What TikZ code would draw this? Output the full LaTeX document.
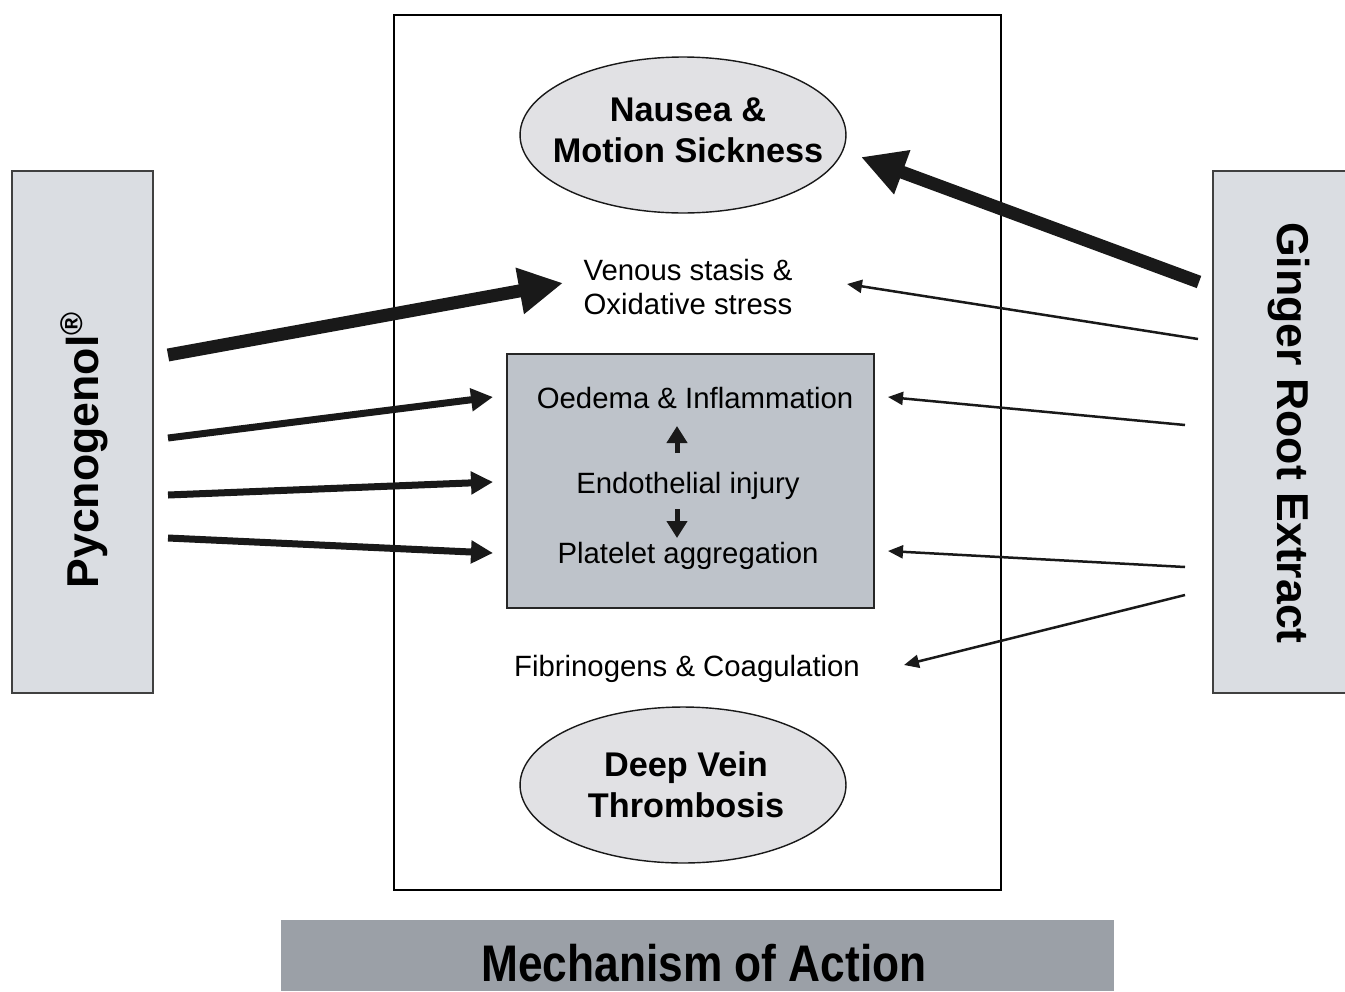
\documentclass[tikz,border=0pt]{standalone}
\usepackage{fontspec}
\setmainfont{Liberation Sans}
\usetikzlibrary{shapes.geometric,arrows.meta}
\definecolor{sideg}{HTML}{DADDE2}
\definecolor{innerg}{HTML}{BEC3CA}
\definecolor{ellg}{HTML}{E1E1E4}
\definecolor{bang}{HTML}{9BA0A7}
\tikzset{
  sidebox/.style={draw=black!75, fill=sideg, line width=0.8pt, inner sep=0},
  ell/.style={ellipse, draw=black!90, fill=ellg, line width=0.8pt, minimum width=6.52cm, minimum height=3.12cm, inner sep=0},
  lbl/.style={inner sep=0, font=\fontsize{16.7pt}{19.8pt}\selectfont, align=center},
  boldlbl/.style={inner sep=0, font=\bfseries\fontsize{19.5pt}{23.2pt}\selectfont, align=center},
  sidelbl/.style={inner sep=0, font=\bfseries\fontsize{25.4pt}{30pt}\selectfont},
  bigarrow/.style={line width=0.26cm, black!90, -{Triangle[length=0.88cm,width=0.88cm]}},
  medarrow/.style={line width=0.14cm, black!90, -{Triangle[length=0.44cm,width=0.44cm]}},
  thinarrow/.style={line width=0.05cm, black!90, -{Triangle[length=0.3cm,width=0.26cm]}},
  tinyarrow/.style={line width=0.1cm, black!90, -{Triangle[length=0.34cm,width=0.4cm]}},
}
\begin{document}
\begin{tikzpicture}[x=0.02cm,y=-0.02cm]
\useasboundingbox (0,0) rectangle (1345,991);
% frames
\node[draw=black, line width=0.7pt, minimum width=12.14cm, minimum height=17.5cm, inner sep=0] (frame) at (697.5,452.5) {};
\node[sidebox, minimum width=2.82cm, minimum height=10.44cm] (leftbox) at (82.5,432) {};
\node[sidebox, minimum width=2.74cm, minimum height=10.44cm] (rightbox) at (1281.5,432) {};
\node[sidelbl, rotate=90] (pyc) at (84,450) {Pycnogenol\textsuperscript{®}};
\node[sidelbl, rotate=-90] (ginger) at (1289,433) {Ginger Root Extract};
% ellipses
\node[ell] (nausea) at (683,135) {};
\node[boldlbl] (nauseat) at (688,130) {Nausea \&\\Motion Sickness};
\node[ell] (dvt) at (683,785) {};
\node[boldlbl] (dvtt) at (686,785) {Deep Vein\\Thrombosis};
% inner box
\node[draw=black!85, fill=innerg, line width=0.8pt, minimum width=7.34cm, minimum height=5.08cm, inner sep=0] (inner) at (690.5,481) {};
\node[lbl, anchor=base] (oedema) at (695,408) {Oedema \& Inflammation};
\node[lbl, anchor=base] (endo) at (688,493) {Endothelial injury};
\node[lbl, anchor=base] (platelet) at (688,563) {Platelet aggregation};
\node[lbl] (venous) at (688,287) {Venous stasis \&\\Oxidative stress};
\node[lbl, anchor=base] (fibrin) at (687,676) {Fibrinogens \& Coagulation};
% banner
\node[fill=bang, minimum width=16.66cm, minimum height=1.42cm, inner sep=0] (banner) at (697.5,955.5) {};
\node[inner sep=0, anchor=base, font=\bfseries\fontsize{29.3pt}{34pt}\selectfont] (mech) at (704,981) {\scalebox{0.86}[1]{Mechanism of Action}};
% coordinates
\coordinate (pa1) at (168,355); \coordinate (pb1) at (563,283);
\coordinate (pa2) at (168,438); \coordinate (pb2) at (493,397);
\coordinate (pa3) at (168,495); \coordinate (pb3) at (493,482);
\coordinate (pa4) at (168,538); \coordinate (pb4) at (493,553);
\coordinate (ga1) at (1199,282); \coordinate (gb1) at (861,157);
\coordinate (ga2) at (1198,339); \coordinate (gb2) at (847,284);
\coordinate (ga3) at (1185,425); \coordinate (gb3) at (888,397);
\coordinate (ga4) at (1185,567); \coordinate (gb4) at (888,551);
\coordinate (ga5) at (1185,595); \coordinate (gb5) at (904,665);
\coordinate (ua) at (677,453); \coordinate (ub) at (677,426);
\coordinate (da) at (677,509); \coordinate (db) at (677,538);
% arrows
\draw[bigarrow] (pa1) -- (pb1);
\draw[medarrow] (pa2) -- (pb2);
\draw[medarrow] (pa3) -- (pb3);
\draw[medarrow] (pa4) -- (pb4);
\draw[bigarrow] (ga1) -- (gb1);
\draw[thinarrow] (ga2) -- (gb2);
\draw[thinarrow] (ga3) -- (gb3);
\draw[thinarrow] (ga4) -- (gb4);
\draw[thinarrow] (ga5) -- (gb5);
\draw[tinyarrow] (ua) -- (ub);
\draw[tinyarrow] (da) -- (db);
\end{tikzpicture}
\end{document}
